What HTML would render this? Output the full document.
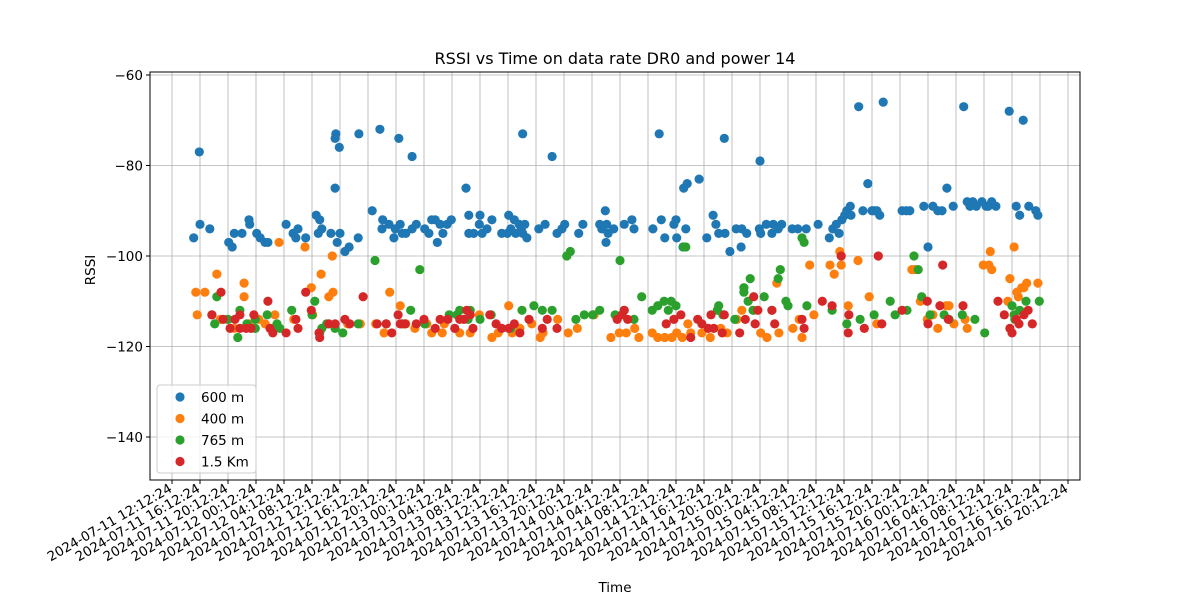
<!DOCTYPE html>
<html><head><meta charset="utf-8"><style>
body{margin:0;background:#fff;}
svg text{font-family:"DejaVu Sans","Liberation Sans",sans-serif;fill:#000;}
</style></head><body>
<svg id="chart" width="1200" height="600" xmlns="http://www.w3.org/2000/svg">
<g id="grid"></g>
<g id="points"></g>
<rect x="150" y="72" width="930" height="408" fill="none" stroke="#000" stroke-width="1"/>
<g id="axes"></g>
<text x="615" y="64" text-anchor="middle" font-size="16">RSSI vs Time on data rate DR0 and power 14</text>
<text transform="translate(95,270) rotate(-90)" text-anchor="middle" font-size="13.5">RSSI</text>
<text x="615" y="592" text-anchor="middle" font-size="13.5">Time</text>
<g id="legend"></g>
</svg>
<script>
// hours since 2024-07-11 12:12:24 and RSSI values
const blueT=[3.1,3.9,4.0,5.4,8.1,8.6,8.9,10.0,11.0,11.1,12.1,12.6,13.3,13.7,16.3,17.3,17.7,18.0,19.1,20.6,21.1,20.9,21.4,22.7,23.3,23.4,23.3,23.6,23.9,24.0,24.7,25.3,26.6,26.7,28.6,29.7,30.0,30.1,31.0,31.7,31.9,32.4,32.6,32.9,33.4,34.3,34.3,34.9,36.1,36.7,37.1,37.6,37.9,38.3,38.7,39.3,39.9,42.0,42.4,42.4,43.1,43.9,44.0,44.3,45.0,45.7,47.1,47.9,48.1,48.4,48.9,49.1,49.6,49.9,50.1,50.1,50.4,50.7,52.4,53.3,54.3,55.0,55.7,56.1,58.1,58.7,61.1,61.4,61.9,62.0,62.1,62.3,63.1,64.6,65.7,66.0,68.7,69.6,69.9,70.4,71.7,72.0,72.1,73.0,73.4,73.1,73.6,75.3,76.4,77.3,77.7,78.1,78.9,79.0,79.7,80.6,81.3,81.4,82.1,83.9,84.0,84.1,84.9,85.7,85.9,86.6,87.1,88.6,89.4,90.6,92.3,93.9,94.4,94.9,95.3,95.7,96.1,96.4,96.9,97.0,98.1,98.7,99.4,100.0,100.3,100.7,101.1,101.6,104.3,104.9,105.4,107.4,108.0,108.7,109.4,110.0,110.7,111.6,113.1,113.6,114.0,114.4,114.9,115.7,116.3,116.6,117.1,117.7,119.6,120.6,121.1,121.6,122.4,123.4,123.7];
const blueV=[-96,-77,-93,-94,-97,-98,-95,-95,-92,-93,-95,-96,-97,-97,-93,-95,-96,-94,-96,-91,-92,-95,-94,-95,-74,-73,-85,-97,-76,-95,-99,-98,-96,-73,-90,-72,-94,-92,-93,-96,-94,-74,-93,-95,-95,-78,-94,-93,-94,-95,-92,-92,-97,-93,-95,-93,-92,-85,-91,-95,-95,-93,-91,-95,-94,-92,-95,-95,-91,-94,-92,-95,-93,-94,-73,-95,-93,-96,-94,-93,-78,-95,-94,-93,-95,-93,-93,-94,-90,-97,-93,-95,-94,-93,-92,-94,-94,-73,-92,-96,-93,-92,-96,-98,-94,-85,-84,-83,-96,-91,-93,-95,-74,-95,-99,-94,-98,-94,-95,-94,-79,-95,-93,-95,-93,-94,-93,-94,-94,-94,-93,-96,-94,-93,-95,-92,-91,-90,-89,-91,-67,-90,-84,-90,-90,-90,-91,-66,-90,-90,-90,-89,-98,-89,-90,-90,-85,-89,-67,-88,-89,-88,-89,-88,-89,-89,-88,-89,-68,-89,-91,-70,-89,-90,-91];
const orangeT=[3.4,3.6,4.7,6.4,6.9,7.9,8.9,10.3,10.3,11.0,12.4,13.3,14.3,14.7,15.3,17.4,19.0,19.9,20.1,21.3,22.4,22.9,23.0,25.1,26.9,29.1,30.3,31.1,32.6,33.0,33.4,34.7,36.4,37.1,38.6,38.9,41.1,42.6,43.9,45.7,46.6,48.1,48.6,49.7,51.4,52.6,53.0,55.1,56.6,57.9,60.3,62.7,63.9,64.9,66.1,66.7,68.6,69.4,70.4,71.4,72.1,72.9,73.7,74.1,75.7,76.9,78.4,79.3,80.7,81.4,83.1,84.1,85.0,86.4,86.7,88.7,89.6,90.0,91.1,91.7,94.0,94.6,95.4,95.6,96.6,98.0,99.6,100.7,105.7,106.1,106.9,107.9,108.7,109.4,110.6,111.0,111.7,113.3,113.6,115.9,116.7,116.9,117.1,119.4,119.7,120.3,120.7,120.9,121.4,121.7,122.1,123.7];
const orangeV=[-108,-113,-108,-104,-114,-114,-116,-106,-109,-115,-114,-115,-116,-113,-97,-114,-98,-107,-113,-104,-109,-100,-108,-115,-115,-115,-117,-108,-111,-115,-115,-116,-115,-117,-117,-115,-117,-117,-113,-118,-117,-111,-117,-116,-115,-118,-117,-114,-117,-116,-113,-118,-117,-117,-116,-118,-117,-118,-118,-118,-117,-118,-115,-117,-117,-118,-116,-117,-114,-112,-112,-117,-118,-106,-117,-116,-114,-118,-102,-113,-102,-104,-99,-102,-111,-101,-109,-115,-103,-103,-110,-114,-113,-116,-111,-111,-115,-114,-116,-102,-102,-99,-103,-110,-105,-98,-108,-109,-107,-107,-106,-106];
const greenT=[5.7,6.1,6.4,8.0,9.4,9.7,10.7,11.9,11.9,13.6,14.6,15.0,15.4,17.1,20.0,20.4,21.1,21.4,22.1,23.3,24.4,26.6,29.0,30.6,32.9,34.1,35.4,36.1,39.6,40.7,41.1,42.3,42.6,44.0,45.6,48.4,50.0,51.7,52.9,54.3,56.4,56.9,57.7,58.9,60.1,61.1,63.3,64.0,64.6,66.0,67.1,68.6,69.4,70.3,70.9,71.3,72.0,73.1,73.4,77.9,78.1,78.7,80.4,81.7,81.7,82.3,82.6,83.0,84.6,85.7,86.6,86.9,87.7,88.0,90.0,90.3,90.7,94.3,96.4,98.3,100.3,102.6,103.3,105.0,106.0,106.6,107.1,108.3,110.3,111.0,112.9,114.7,116.1,120.0,120.3,120.4,121.1,122.0,123.9];
const greenV=[-113,-115,-109,-114,-118,-112,-115,-116,-114,-113,-116,-115,-116,-112,-113,-110,-117,-116,-115,-116,-117,-115,-101,-115,-115,-112,-103,-115,-113,-113,-112,-114,-112,-114,-113,-116,-112,-111,-112,-112,-100,-99,-114,-113,-113,-112,-113,-101,-112,-114,-109,-112,-111,-110,-112,-110,-111,-98,-98,-112,-111,-113,-114,-108,-107,-110,-105,-112,-109,-112,-105,-103,-110,-111,-96,-97,-111,-112,-115,-114,-113,-110,-113,-112,-100,-103,-109,-113,-113,-114,-113,-114,-117,-111,-113,-114,-112,-110,-110];
const redT=[5.7,7.0,7.3,8.3,9.0,9.7,9.7,10.6,11.3,11.7,13.7,14.0,14.4,16.3,17.7,18.0,19.1,19.9,21.0,21.1,22.4,23.3,24.7,25.4,27.3,29.3,30.6,31.4,32.3,32.6,33.3,34.9,36.0,37.6,38.3,39.4,40.4,41.1,41.7,42.1,42.6,43.0,45.4,46.3,47.1,48.1,48.9,49.7,51.0,52.9,53.6,55.0,63.6,64.3,64.6,65.1,70.6,71.7,72.7,74.1,75.1,75.7,76.6,77.0,77.4,78.6,78.9,81.1,81.9,83.1,83.3,83.7,85.7,86.1,90.0,90.3,92.9,94.3,95.6,96.6,96.7,98.9,100.9,101.4,104.3,107.9,108.0,109.7,110.1,110.9,113.0,118.0,118.9,119.7,120.0,120.6,121.0,121.7,122.3,122.9];
const redV=[-113,-108,-114,-116,-114,-116,-113,-116,-116,-113,-110,-116,-117,-117,-114,-116,-108,-112,-117,-118,-115,-115,-114,-115,-109,-115,-115,-117,-113,-115,-115,-115,-114,-116,-114,-114,-116,-114,-114,-112,-113,-116,-113,-115,-116,-116,-115,-117,-114,-116,-114,-116,-114,-113,-112,-114,-115,-114,-113,-118,-114,-115,-116,-113,-116,-117,-113,-117,-114,-109,-115,-112,-112,-115,-114,-116,-110,-111,-100,-117,-113,-116,-100,-115,-112,-110,-115,-111,-102,-114,-111,-110,-113,-116,-117,-114,-115,-113,-112,-115];
const yTicks=[-60,-80,-100,-120,-140];
const xTickHours=[0,4,8,12,16,20,24,28,32,36,40,44,48,52,56,60,64,68,72,76,80,84,88,92,96,100,104,108,112,116,120,124,128];
const xTickLabels=["2024-07-11 12:12:24","2024-07-11 16:12:24","2024-07-11 20:12:24","2024-07-12 00:12:24","2024-07-12 04:12:24","2024-07-12 08:12:24","2024-07-12 12:12:24","2024-07-12 16:12:24","2024-07-12 20:12:24","2024-07-13 00:12:24","2024-07-13 04:12:24","2024-07-13 08:12:24","2024-07-13 12:12:24","2024-07-13 16:12:24","2024-07-13 20:12:24","2024-07-14 00:12:24","2024-07-14 04:12:24","2024-07-14 08:12:24","2024-07-14 12:12:24","2024-07-14 16:12:24","2024-07-14 20:12:24","2024-07-15 00:12:24","2024-07-15 04:12:24","2024-07-15 08:12:24","2024-07-15 12:12:24","2024-07-15 16:12:24","2024-07-15 20:12:24","2024-07-16 00:12:24","2024-07-16 04:12:24","2024-07-16 08:12:24","2024-07-16 12:12:24","2024-07-16 16:12:24","2024-07-16 20:12:24"];
const seriesNames=["600 m","400 m","765 m","1.5 Km"];

const NS="http://www.w3.org/2000/svg";
const xS=h=>172+h*(1068-172)/128;
const yS=v=>75+(v+60)*(437-75)/(-80);
function mk(tag,attrs,parent){const e=document.createElementNS(NS,tag);for(const k in attrs)e.setAttribute(k,attrs[k]);parent.appendChild(e);return e;}
const grid=document.getElementById('grid'),axes=document.getElementById('axes'),pts=document.getElementById('points'),leg=document.getElementById('legend');
yTicks.forEach(v=>{const y=yS(v);
 const g=mk('line',{x1:150,x2:1080,y1:y,y2:y,stroke:'#b0b0b0','stroke-width':0.8},grid);
 
 
 const t=mk('line',{x1:146,x2:150,y1:y,y2:y,stroke:'#000'},axes);
 
 
 const l=mk('text',{x:143,y:y+5,'text-anchor':'end','font-size':13.5},axes);l.textContent='\u2212'+Math.abs(v);
 
 
});
xTickHours.forEach((h,i)=>{const x=xS(h);
 const g=mk('line',{x1:x,x2:x,y1:72,y2:480,stroke:'#b0b0b0','stroke-width':0.8},grid);
 
 
 const t=mk('line',{x1:x,x2:x,y1:480,y2:484,stroke:'#000'},axes);
 
 
 const l=mk('text',{transform:`translate(${x+1},${491}) rotate(-30)`,'text-anchor':'end','font-size':13.3},axes);l.textContent=xTickLabels[i];
 
 
});
const colors=['#1f77b4','#ff7f0e','#2ca02c','#d62728'];
const data=[[blueT,blueV],[orangeT,orangeV],[greenT,greenV],[redT,redV]];
data.forEach((s,si)=>{s[0].forEach((h,i)=>{
 const c=mk('circle',{cx:xS(h),cy:yS(s[1][i]),r:4.6,fill:colors[si]},pts);
 
 
});});
const box=mk('rect',{x:157,y:385,width:99,height:88,rx:3,fill:'#fff','fill-opacity':0.8,stroke:'#ccc'},leg);


seriesNames.forEach((n,i)=>{const y=397+i*21.5;
 const c=mk('circle',{cx:180,cy:y,r:4.6,fill:colors[i]},leg);
 
 
 const t=mk('text',{x:201,y:y+5,'font-size':13.5},leg);t.textContent=n;
 
 
});
</script>
</body></html>
